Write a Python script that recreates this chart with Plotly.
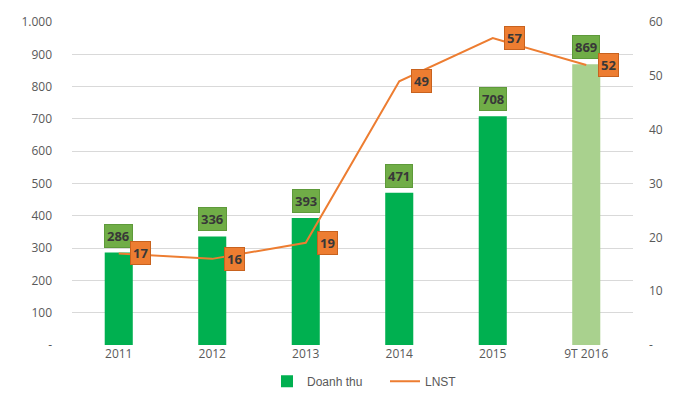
import plotly.graph_objects as go

categories = ["2011", "2012", "2013", "2014", "2015", "9T 2016"]
doanh_thu = [286, 336, 393, 471, 708, 869]
lnst = [17, 16, 19, 49, 57, 52]
left_ticks = [0, 100, 200, 300, 400, 500, 600, 700, 800, 900, 1000]
left_tick_text = ["-", "100", "200", "300", "400", "500", "600", "700", "800", "900", "1.000"]
right_ticks = [0, 10, 20, 30, 40, 50, 60]
right_tick_text = ["-", "10", "20", "30", "40", "50", "60"]

bar_colors = ["#00B050"] * 5 + ["#A9D18E"]
tick_font = dict(family="Open Sans, DejaVu Sans, sans-serif", size=12, color="#595959")

fig = go.Figure()
fig.add_trace(go.Bar(
    x=categories, y=doanh_thu, name="Doanh thu",
    marker=dict(color=bar_colors, line=dict(width=0)),
    width=0.3, yaxis="y",
))
fig.add_trace(go.Scatter(
    x=categories, y=lnst, name="LNST", mode="lines",
    line=dict(color="#ED7D31", width=2), yaxis="y2",
))

ann = []
for i, v in enumerate(doanh_thu):
    ann.append(dict(
        x=i, y=v, xref="x", yref="y", text="<b>%d</b>" % v, showarrow=False,
        yanchor="bottom", yshift=5,
        font=dict(family="Open Sans, DejaVu Sans, sans-serif", size=13, color="#383838"),
        bgcolor="#70AD47", bordercolor="#5E9A3A", borderwidth=1, borderpad=2,
    ))
for i, v in enumerate(lnst):
    ann.append(dict(
        x=i, y=v, xref="x", yref="y2", text="<b>%d</b>" % v, showarrow=False,
        xanchor="center", yanchor="middle", xshift=22,
        font=dict(family="Open Sans, DejaVu Sans, sans-serif", size=13, color="#383838"),
        bgcolor="#ED7D31", bordercolor="#C8621E", borderwidth=1, borderpad=2,
    ))

fig.update_layout(
    width=700, height=397,
    margin=dict(l=64, r=75, t=14, b=60, autoexpand=False),
    paper_bgcolor="white", plot_bgcolor="white",
    showlegend=True,
    legend=dict(orientation="h", xref="container", yref="container",
                x=0.37, xanchor="left", y=0.06, yanchor="middle",
                entrywidth=73, entrywidthmode="pixels",
                font=dict(family="Liberation Sans, Arial, sans-serif", size=12, color="#595959"),
                itemwidth=30),
    xaxis=dict(type="category", range=[-0.5, 5.5], showgrid=False, showline=False,
               ticks="", tickfont=tick_font),
    yaxis=dict(range=[0, 1000], tickvals=left_ticks, ticktext=left_tick_text,
               showgrid=True, gridcolor="#D9D9D9", gridwidth=1, zeroline=False,
               showline=False, ticks="", tickfont=tick_font, ticklabelstandoff=19),
    yaxis2=dict(range=[0, 60], tickvals=right_ticks, ticktext=right_tick_text,
                overlaying="y", side="right", showgrid=False, zeroline=False,
                showline=False, ticks="", tickfont=tick_font, ticklabelstandoff=15),
    annotations=ann,
)

fig.write_html("out.html")
